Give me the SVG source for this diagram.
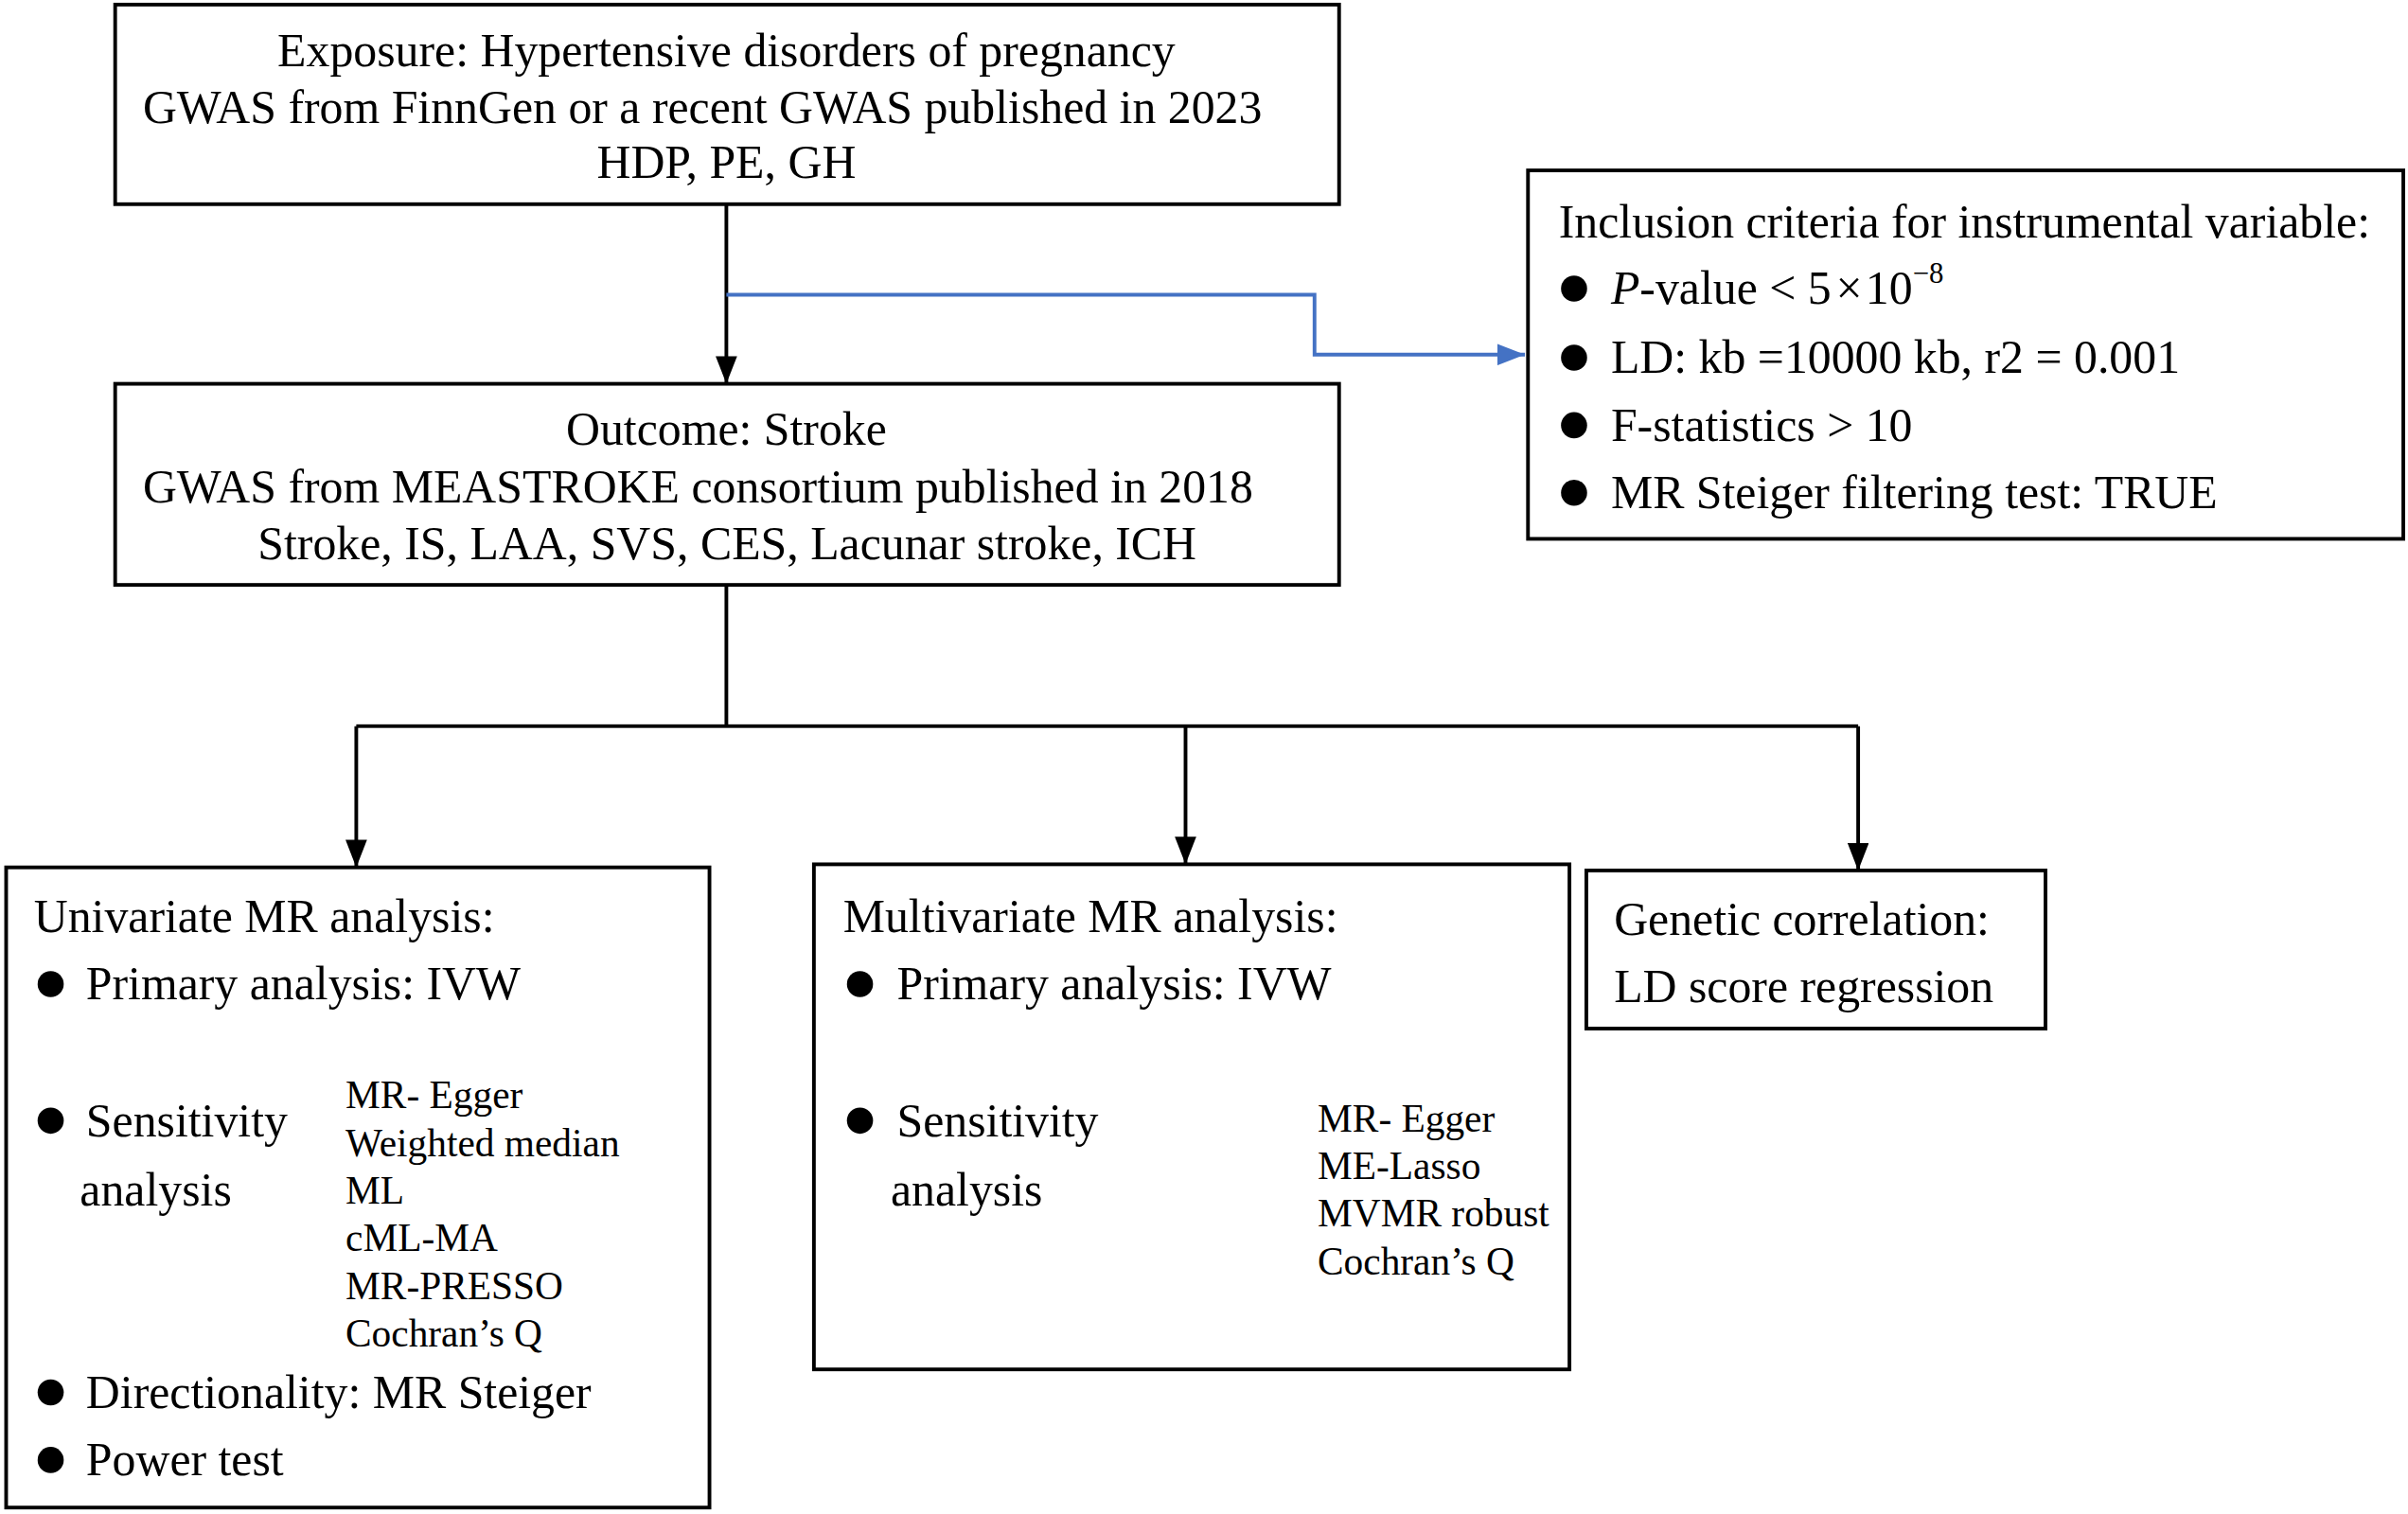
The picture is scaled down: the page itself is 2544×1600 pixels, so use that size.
<svg xmlns="http://www.w3.org/2000/svg" width="2544" height="1600" viewBox="0 0 2544 1600">
<defs>
<marker id="ab" markerWidth="18" markerHeight="14" refX="18" refY="7" orient="auto" markerUnits="userSpaceOnUse" viewBox="0 0 18 14">
<path d="M0,0 L18,7 L0,14 Z" fill="#000"/>
</marker>
<marker id="ablue" markerWidth="18" markerHeight="14" refX="18" refY="7" orient="auto" markerUnits="userSpaceOnUse" viewBox="0 0 18 14">
<path d="M0,0 L18,7 L0,14 Z" fill="#4472C4"/>
</marker>
</defs>
<style>
.box{fill:#fff;stroke:#000;stroke-width:2.4}
.t{font-family:"Liberation Serif","Times New Roman",serif;font-size:30.7px;fill:#000}
.s{font-family:"Liberation Serif","Times New Roman",serif;font-size:25.5px;fill:#000}
.m{text-anchor:middle}
.c{stroke:#000;stroke-width:2.4;fill:none}
.b{stroke:#4472C4;stroke-width:2.4;fill:none}
.dot{fill:#000}
</style>
<rect width="2544" height="1600" fill="#fff"/>
<g transform="scale(1.6224)">
<g id="connectors">
<path class="c" d="M473,133 V250" marker-end="url(#ab)"/>
<path class="b" d="M473,192 H856 V231 H993" marker-end="url(#ablue)"/>
<path class="c" d="M473,381 V473"/>
<path class="c" d="M232,473 H1210"/>
<path class="c" d="M232,473 V565" marker-end="url(#ab)"/>
<path class="c" d="M772,473 V563" marker-end="url(#ab)"/>
<path class="c" d="M1210,473 V567" marker-end="url(#ab)"/>
</g>
<g id="exposure">
<rect class="box" x="75" y="3" width="797" height="130"/>
<text class="t m" x="473" y="43">Exposure: Hypertensive disorders of pregnancy</text>
<text class="t" x="93" y="80">GWAS from FinnGen or a recent GWAS published in 2023</text>
<text class="t m" x="473" y="116">HDP, PE, GH</text>
</g>
<g id="outcome">
<rect class="box" x="75" y="250" width="797" height="131"/>
<text class="t m" x="473" y="290">Outcome: Stroke</text>
<text class="t" x="93" y="327">GWAS from MEASTROKE consortium published in 2018</text>
<text class="t m" x="473.5" y="364">Stroke, IS, LAA, SVS, CES, Lacunar stroke, ICH</text>
</g>
<g id="inclusion">
<rect class="box" x="995" y="111" width="570" height="240"/>
<text class="t" x="1015" y="155">Inclusion criteria for instrumental variable:</text>
<circle class="dot" cx="1025" cy="188" r="8.5"/>
<text class="t" x="1049" y="198"><tspan font-style="italic">P</tspan>-value &lt; 5<tspan dx="3">×</tspan><tspan dx="2">10</tspan><tspan font-size="19" dy="-14">−8</tspan></text>
<circle class="dot" cx="1025" cy="233" r="8.5"/>
<text class="t" x="1049" y="243">LD: kb =10000 kb, r2 = 0.001</text>
<circle class="dot" cx="1025" cy="277" r="8.5"/>
<text class="t" x="1049" y="287">F-statistics &gt; 10</text>
<circle class="dot" cx="1025" cy="321" r="8.5"/>
<text class="t" x="1049" y="331">MR Steiger filtering test: TRUE</text>
</g>
<g id="univariate">
<rect class="box" x="4" y="565" width="458" height="417"/>
<text class="t" x="22" y="607">Univariate MR analysis:</text>
<circle class="dot" cx="33" cy="641" r="8.5"/>
<text class="t" x="56" y="651">Primary analysis: IVW</text>
<circle class="dot" cx="33" cy="730" r="8.5"/>
<text class="t" x="56" y="740">Sensitivity</text>
<text class="t" x="52" y="785">analysis</text>
<text class="s" x="225" y="722">MR- Egger</text>
<text class="s" x="225" y="753">Weighted median</text>
<text class="s" x="225" y="784">ML</text>
<text class="s" x="225" y="815">cML-MA</text>
<text class="s" x="225" y="846">MR-PRESSO</text>
<text class="s" x="225" y="877">Cochran’s Q</text>
<circle class="dot" cx="33" cy="907" r="8.5"/>
<text class="t" x="56" y="917">Directionality: MR Steiger</text>
<circle class="dot" cx="33" cy="951" r="8.5"/>
<text class="t" x="56" y="961">Power test</text>
</g>
<g id="multivariate">
<rect class="box" x="530" y="563" width="492" height="329"/>
<text class="t" x="549" y="607">Multivariate MR analysis:</text>
<circle class="dot" cx="560" cy="641" r="8.5"/>
<text class="t" x="584" y="651">Primary analysis: IVW</text>
<circle class="dot" cx="560" cy="730" r="8.5"/>
<text class="t" x="584" y="740">Sensitivity</text>
<text class="t" x="580" y="785">analysis</text>
<text class="s" x="858" y="737">MR- Egger</text>
<text class="s" x="858" y="768">ME-Lasso</text>
<text class="s" x="858" y="799">MVMR robust</text>
<text class="s" x="858" y="830">Cochran’s Q</text>
</g>
<g id="genetic">
<rect class="box" x="1033" y="567" width="299" height="103"/>
<text class="t" x="1051" y="609">Genetic correlation:</text>
<text class="t" x="1051" y="653">LD score regression</text>
</g>
</g>
</svg>
